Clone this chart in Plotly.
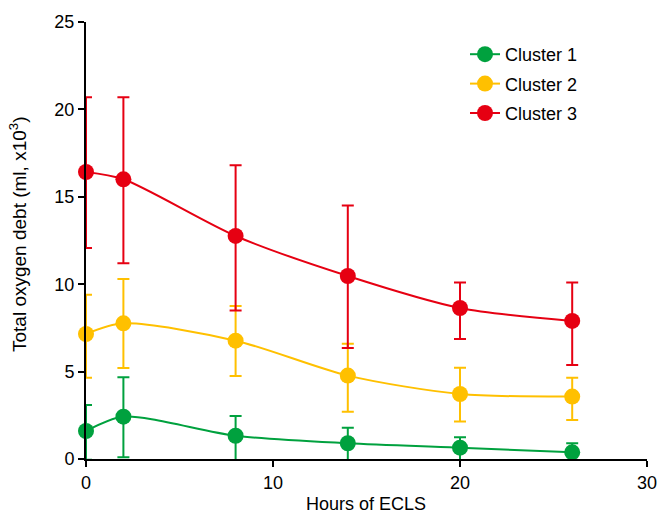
import plotly.graph_objects as go

hours = [0, 2, 8, 14, 20, 26]

c1_mean = [1.6, 2.42, 1.33, 0.9, 0.65, 0.38]
c1_upper = [3.09, 4.67, 2.46, 1.79, 1.24, 0.9]
c1_lower = [-0.05, 0.1, -0.1, -0.15, -0.06, -0.1]

c2_mean = [7.15, 7.76, 6.77, 4.77, 3.72, 3.57]
c2_upper = [9.4, 10.3, 8.75, 6.6, 5.22, 4.65]
c2_lower = [4.65, 5.2, 4.75, 2.7, 2.14, 2.23]

c3_mean = [16.42, 16.0, 12.76, 10.47, 8.64, 7.9]
c3_upper = [20.7, 20.7, 16.8, 14.5, 10.1, 10.1]
c3_lower = [12.07, 11.2, 8.5, 6.35, 6.86, 5.38]

names = ["Cluster 1", "Cluster 2", "Cluster 3"]
colors = ["#00A13E", "#FFC000", "#E60012"]

fig = go.Figure()
for name, color, m, up, lo in [
    (names[0], colors[0], c1_mean, c1_upper, c1_lower),
    (names[1], colors[1], c2_mean, c2_upper, c2_lower),
    (names[2], colors[2], c3_mean, c3_upper, c3_lower),
]:
    fig.add_trace(go.Scatter(
        x=hours, y=m, name=name, mode="lines+markers", legendgroup=name,
        line=dict(color=color, width=2, shape="spline", smoothing=0.8),
        marker=dict(color=color, size=16),
        error_y=dict(type="data", symmetric=False,
                     array=[u - v for u, v in zip(up, m)],
                     arrayminus=[v - l for v, l in zip(m, lo)],
                     color=color, thickness=2, width=6),
        cliponaxis=False,
    ))

fig.update_layout(
    width=657, height=515,
    margin=dict(l=86, r=10, t=22, b=56),
    paper_bgcolor="white", plot_bgcolor="white",
    font=dict(family="Liberation Sans, Arial", size=18, color="#000"),
    showlegend=True,
    legend=dict(x=(465 - 86) / 561, y=1 + (22 - 36) / 437, xanchor="left", yanchor="top",
                bgcolor="rgba(0,0,0,0)", font=dict(size=18),
                traceorder="grouped", tracegroupgap=3),
    annotations=[
        dict(text="Total oxygen debt (ml, x10<sup>3</sup>)", textangle=-90,
             xref="paper", yref="paper", x=(18 - 86) / 561, y=(459 - 234) / 437,
             xanchor="center", yanchor="middle", showarrow=False,
             font=dict(size=19)),
        dict(text="Hours of ECLS",
             xref="paper", yref="paper", x=(366 - 86) / 561, y=(459 - 504) / 437,
             xanchor="center", yanchor="middle", showarrow=False,
             font=dict(size=18)),
    ],
)
fig.update_xaxes(range=[0, 30], tickvals=[0, 10, 20, 30], showline=True,
                 linecolor="black", linewidth=2, ticks="outside", ticklen=6,
                 tickwidth=2, tickcolor="black", showgrid=False, zeroline=False,
                 automargin=False, ticklabeloverflow="allow")
fig.update_yaxes(range=[0, 25], tickvals=[0, 5, 10, 15, 20, 25], showline=True,
                 linecolor="black", linewidth=2, ticks="outside", ticklen=6,
                 tickwidth=2, tickcolor="black", showgrid=False, zeroline=False,
                 automargin=False, ticklabeloverflow="allow")

fig.write_html("out.html")
